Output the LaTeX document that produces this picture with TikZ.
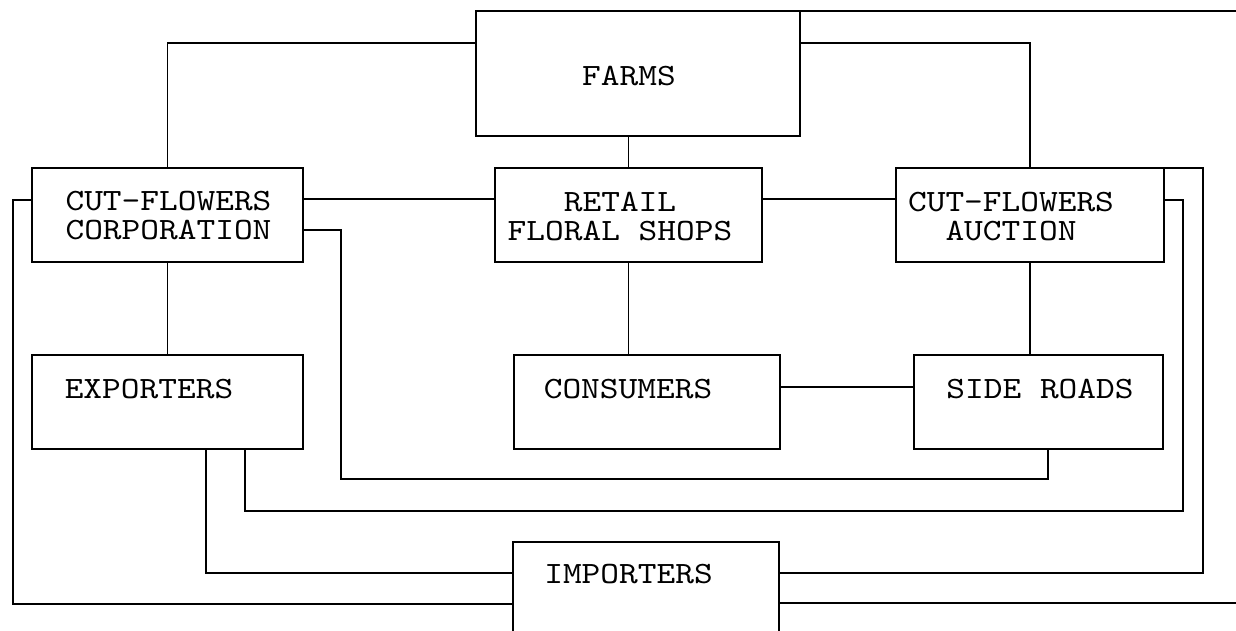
\documentclass[tikz,border=0pt]{standalone}
\usepackage{fontspec}
\newfontfamily\boxfont{lmmono10-regular.otf}[FakeStretch=1.15]
\begin{document}
\begin{tikzpicture}[x=1pt,y=-1pt,
  box/.style={draw, line width=1.5pt, outer sep=0pt, inner sep=0pt, rectangle},
  lbl/.style={font=\boxfont\fontsize{31}{29}\selectfont, inner sep=0pt, align=center},
  wire/.style={line width=1.5pt}]
\clip (0,0) rectangle (1236,631);
\fill[white] (0,0) rectangle (1236,631);
% boxes
\node[box, minimum width=324, minimum height=125] (farms)  at (638,73.5) {};
\node[box, minimum width=271, minimum height=94]  (corp)   at (167.5,215) {};
\node[box, minimum width=267, minimum height=94]  (retail) at (628.5,215) {};
\node[box, minimum width=268, minimum height=94]  (auct)   at (1030,215) {};
\node[box, minimum width=271, minimum height=94]  (exp)    at (167.5,402) {};
\node[box, minimum width=266, minimum height=94]  (cons)   at (647,402) {};
\node[box, minimum width=249, minimum height=94]  (side)   at (1038.5,402) {};
\node[box, minimum width=266, minimum height=100] (imp)    at (646,592) {};
% labels
\node[lbl] (tfarms)  at (629,76)    {FARMS};
\node[lbl] (tcorp)   at (168.5,216) {CUT-FLOWERS\\CORPORATION};
\node[lbl] (tretail) at (620,217)   {RETAIL\\FLORAL SHOPS};
\node[lbl] (tauct)   at (1011,217)  {CUT-FLOWERS\\AUCTION};
\node[lbl] (texp)    at (149,389)   {EXPORTERS};
\node[lbl] (tcons)   at (628,389)   {CONSUMERS};
\node[lbl] (tside)   at (1040,389)  {SIDE ROADS};
\node[lbl] (timp)    at (628.5,574) {IMPORTERS};
% free ends at the picture's right edge
\coordinate (offTop) at (1236,11);
\coordinate (offBot) at (1236,603);
% connectors
\draw[wire] (farms.west |- 0,43) -| (corp.north);
\draw[wire] (farms.east |- 0,43) -| (auct.north);
\draw[wire] (farms.north east) -- (offTop);
\draw[wire] (retail.north |- farms.south) -- (retail.north);
\draw[wire] (corp.east |- 0,199) -- (retail.west |- 0,199);
\draw[wire] (retail.east |- 0,199) -- (auct.west |- 0,199);
\draw[wire] (corp.south) -- (exp.north);
\draw[wire] (retail.south) -- (retail.south |- cons.north);
\draw[wire] (auct.south) -- (auct.south |- side.north);
\draw[wire] (cons.east |- 0,387) -- (side.west |- 0,387);
\draw[wire] (corp.west |- 0,200) -- (13,200) |- (imp.west |- 0,604);
\draw[wire] (corp.east |- 0,230) -| (341,479) -| (side.south -| 1048,0);
\draw[wire] (exp.south -| 206,0) |- (imp.west |- 0,573);
\draw[wire] (exp.south -| 245,0) |- (1183,511) |- (auct.east |- 0,200);
\draw[wire] (imp.east |- 0,573) -| (1203,168) -- (auct.north east);
\draw[wire] (imp.east |- 0,603) -- (offBot);
\end{tikzpicture}
\end{document}
